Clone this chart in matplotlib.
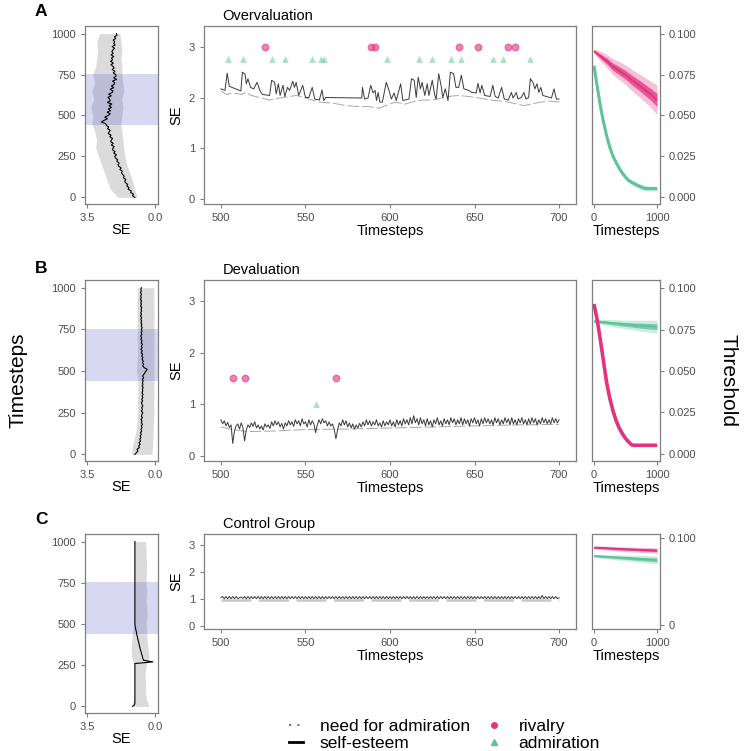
import numpy as np
import matplotlib.pyplot as plt
from matplotlib.lines import Line2D

plt.rcParams['font.family'] = ['Liberation Sans', 'DejaVu Sans']

W, H = 749, 751
PINK = '#E3337F'
GREEN = '#5DC39A'
AX_GRAY = '#7f7f7f'
TXT_GRAY = '#4d4d4d'

# ---------------- left panels: SE over all 1000 timesteps ----------------
left_t = np.arange(0, 1001, 10)
band_t = np.arange(0, 1001, 50)

left_se_a = [1.03, 1.15, 1.10, 1.25, 1.22, 1.38, 1.33, 1.45, 1.40, 1.52, 1.55,
             1.50, 1.62, 1.58, 1.66, 1.72, 1.68, 1.80, 1.74, 1.86, 1.90,
             1.84, 1.96, 1.92, 2.02, 2.07, 1.98, 2.12, 2.05, 2.18, 2.16,
             2.10, 2.24, 2.15, 2.28, 2.24, 2.18, 2.32, 2.26, 2.40, 2.36,
             2.30, 2.44, 2.38, 2.50, 2.53, 2.76, 2.62, 2.45, 2.58, 2.41,
             2.30, 2.46, 2.28, 2.40, 2.24, 2.36, 2.22, 2.45, 2.30, 2.33,
             2.42, 2.25, 2.38, 2.20, 2.16, 2.30, 2.12, 2.24, 2.10, 2.07,
             2.18, 1.98, 2.12, 2.00, 2.02, 2.14, 2.06, 2.20, 2.10, 2.16,
             2.26, 2.14, 2.28, 2.18, 2.24, 2.12, 2.26, 2.15, 2.22, 2.16,
             2.08, 2.20, 2.05, 2.12, 2.07, 2.15, 2.02, 2.08, 1.95, 1.98]
left_hi_a = [1.90, 2.30, 2.45, 2.60, 2.75, 2.90, 3.05, 3.00, 3.10, 3.25, 3.20,
             3.30, 3.15, 3.25, 3.10, 3.20, 3.05, 3.00, 2.95, 3.00, 2.85]
left_lo_a = [0.90, 1.05, 1.15, 1.30, 1.45, 1.55, 1.60, 1.65, 1.70, 1.75, 1.70,
             1.65, 1.70, 1.60, 1.65, 1.70, 1.70, 1.75, 1.70, 1.75, 1.80]

left_se_b = [1.03, 0.95, 0.88, 0.92, 0.80, 0.84, 0.76, 0.82, 0.74, 0.78, 0.72,
             0.76, 0.70, 0.74, 0.68, 0.72, 0.66, 0.70, 0.64, 0.70, 0.66,
             0.72, 0.64, 0.70, 0.66, 0.62, 0.70, 0.64, 0.68, 0.62, 0.66,
             0.70, 0.63, 0.68, 0.62, 0.66, 0.61, 0.67, 0.62, 0.65, 0.60,
             0.66, 0.61, 0.65, 0.60, 0.64, 0.58, 0.63, 0.57, 0.52, 0.45,
             0.40, 0.55, 0.62, 0.58, 0.64, 0.60, 0.66, 0.62, 0.68, 0.63,
             0.70, 0.65, 0.72, 0.66, 0.70, 0.64, 0.71, 0.66, 0.72, 0.68,
             0.73, 0.67, 0.71, 0.66, 0.70, 0.65, 0.71, 0.67, 0.72, 0.68,
             0.73, 0.68, 0.74, 0.69, 0.73, 0.68, 0.72, 0.67, 0.74, 0.69,
             0.73, 0.68, 0.75, 0.70, 0.73, 0.69, 0.74, 0.70, 0.72, 0.70]
left_hi_b = [1.20, 1.15, 1.05, 0.95, 0.92, 0.90, 0.90, 0.88, 0.88, 0.88, 0.95,
             0.92, 0.90, 0.90, 0.92, 0.90, 0.90, 0.92, 0.90, 0.90, 0.90]
left_lo_b = [0.15, 0.12, 0.10, 0.08, 0.08, 0.05, 0.06, 0.05, 0.05, 0.04, 0.05,
             0.05, 0.04, 0.05, 0.04, 0.05, 0.05, 0.04, 0.05, 0.05, 0.06]

left_se_c = [1.15, 1.05, 1.03, 1.03, 1.03, 1.03, 1.03, 1.03, 1.03, 1.03, 1.03,
             1.03, 1.03, 1.03, 1.03, 1.03, 1.03, 1.03, 1.03, 1.03, 1.03,
             1.03, 1.03, 1.03, 1.03, 1.03, 1.03, 0.10, 0.58, 0.62, 0.64,
             0.66, 0.69, 0.71, 0.74, 0.76, 0.78, 0.80, 0.82, 0.84, 0.86,
             0.88, 0.90, 0.92, 0.94, 0.95, 0.97, 0.99, 1.01, 1.02, 1.03,
             1.03, 1.03, 1.03, 1.03, 1.03, 1.03, 1.03, 1.03, 1.03, 1.03,
             1.03, 1.03, 1.03, 1.03, 1.03, 1.03, 1.03, 1.03, 1.03, 1.03,
             1.03, 1.03, 1.03, 1.03, 1.03, 1.03, 1.03, 1.03, 1.03, 1.03,
             1.03, 1.03, 1.03, 1.03, 1.03, 1.03, 1.03, 1.03, 1.03, 1.03,
             1.03, 1.03, 1.03, 1.03, 1.03, 1.03, 1.03, 1.03, 1.03, 1.03]
left_hi_c = [1.20, 1.08, 1.06, 1.06, 1.06, 1.06, 1.20, 1.22, 1.20, 1.15, 1.08,
             1.06, 1.06, 1.06, 1.06, 1.06, 1.06, 1.06, 1.06, 1.06, 1.06]
left_lo_c = [0.30, 0.45, 0.50, 0.48, 0.50, 0.45, 0.30, 0.35, 0.40, 0.42, 0.45,
             0.40, 0.42, 0.45, 0.42, 0.45, 0.45, 0.42, 0.45, 0.45, 0.48]

window = (440, 755)

# ---------------- middle panels: timesteps 500-700 ----------------
# A: vertices of the self-esteem line
se_a_t = [500, 502.4, 503.7, 505, 511.8, 512.7, 514.3, 515, 516, 517.5, 519.4, 521.4,
          523, 524.5, 528.8, 530, 531.8, 532.7, 534, 535, 536.7, 537.8, 539.4, 540.6,
          542.5, 543.5, 544.5, 546, 548.4, 550, 552, 554, 555.5, 558.2, 559.8, 560.8,
          562, 583.3, 583.7, 585, 587, 588.6, 590, 591.2, 592, 593, 594, 595.5,
          597.8, 599.4, 600.8, 602.4, 603.7, 606.3, 607.6, 611.2, 612.7, 614.3, 615.5,
          616.7, 618, 619, 620.6, 622, 623, 625, 626.5, 627.3, 628.8, 630.4, 631.2,
          632.7, 634.3, 635.7, 637.6, 639, 640.6, 642.2, 643.7, 646.5, 648.4, 651,
          652, 653.3, 654.3, 656, 659.2, 660.8, 662.2, 664, 666, 667.6, 669.9, 671.8,
          672.8, 674.7, 675.7, 677.6, 679.2, 680.4, 682, 683, 684.5, 685.7, 686.9, 688,
          689.2, 690.4, 695.5, 697, 698.4, 700]
se_a = [2.17, 2.14, 2.48, 2.22, 2.13, 2.50, 2.46, 2.27, 2.37, 2.20, 2.17, 2.30,
        2.14, 2.06, 2.04, 2.34, 2.30, 2.07, 2.27, 2.04, 2.24, 2.02, 2.20, 2.14,
        2.32, 2.20, 2.30, 2.04, 2.24, 2.00, 2.00, 2.20, 1.97, 1.95, 2.15, 1.94,
        2.00, 1.99, 2.20, 1.97, 1.99, 2.24, 2.09, 2.14, 1.94, 2.10, 1.91, 1.91,
        2.30, 2.14, 1.97, 2.09, 1.94, 2.27, 1.94, 1.97, 2.37, 2.34, 2.00,
        2.40, 2.17, 2.30, 2.04, 2.27, 2.04, 2.34, 2.04, 1.97, 2.47, 2.20, 2.00,
        2.17, 1.94, 2.50, 2.47, 2.20, 2.20, 2.44, 2.17, 2.14, 2.10, 2.09,
        2.28, 2.09, 2.24, 2.04, 2.02, 2.24, 2.02, 1.99, 2.20, 1.97, 1.95, 2.10,
        1.99, 2.10, 1.97, 2.00, 2.10, 1.97, 2.00, 2.37, 2.30, 2.17, 2.27, 2.10,
        2.20, 2.04, 1.99, 2.17, 1.97, 1.97]
nfa_a_t = [500, 503.3, 507, 512, 515, 518, 524, 528.8, 534.7, 540.6, 544.5, 550, 558,
           566, 574, 581.8, 587.6, 593.5, 597.5, 603, 609, 613, 619, 625, 630.8,
           636.7, 640.6, 646.5, 652.4, 660.2, 670, 679.4, 683.3, 689.2, 695, 700]
nfa_a = [2.13, 2.06, 2.09, 2.06, 2.10, 2.04, 1.99, 1.95, 1.99, 2.02, 2.04, 1.99, 1.91,
         1.89, 1.84, 1.82, 1.82, 1.79, 1.84, 1.91, 1.87, 1.91, 1.95, 1.95, 1.99,
         2.03, 2.04, 2.02, 1.99, 1.95, 1.91, 1.84, 1.87, 1.91, 1.93, 1.91]
rivalry_a = [526, 589, 591, 641, 652, 670, 674]
admiration_a = [504, 513, 530, 538, 554, 559, 561, 598, 617, 625, 636, 642, 661, 667, 683]

mid_t = np.arange(500, 701)
se_b = [0.70, 0.62, 0.68, 0.58, 0.65, 0.55, 0.60, 0.24, 0.48, 0.58,
        0.62, 0.52, 0.64, 0.55, 0.29, 0.50, 0.60, 0.55, 0.64, 0.57,
        0.66, 0.54, 0.60, 0.52, 0.58, 0.50, 0.62, 0.56, 0.60, 0.53,
        0.66, 0.58, 0.68, 0.60, 0.66, 0.56, 0.63, 0.52, 0.64, 0.58,
        0.68, 0.60, 0.66, 0.57, 0.70, 0.62, 0.68, 0.58, 0.72, 0.62,
        0.66, 0.56, 0.70, 0.60, 0.68, 0.62, 0.45, 0.60, 0.70, 0.62,
        0.72, 0.64, 0.68, 0.58, 0.66, 0.58, 0.62, 0.52, 0.33, 0.50,
        0.64, 0.58, 0.70, 0.60, 0.68, 0.56, 0.64, 0.54, 0.62, 0.52,
        0.60, 0.54, 0.63, 0.56, 0.66, 0.58, 0.70, 0.60, 0.68, 0.58,
        0.66, 0.60, 0.70, 0.58, 0.64, 0.56, 0.68, 0.58, 0.66, 0.60,
        0.70, 0.58, 0.66, 0.56, 0.70, 0.60, 0.68, 0.58, 0.72, 0.62,
        0.70, 0.60, 0.74, 0.62, 0.78, 0.64, 0.72, 0.60, 0.74, 0.62,
        0.70, 0.58, 0.72, 0.60, 0.68, 0.56, 0.70, 0.62, 0.74, 0.60,
        0.68, 0.58, 0.72, 0.62, 0.70, 0.60, 0.74, 0.64, 0.72, 0.60,
        0.70, 0.62, 0.74, 0.60, 0.72, 0.62, 0.70, 0.58, 0.72, 0.64,
        0.74, 0.62, 0.70, 0.58, 0.72, 0.62, 0.74, 0.64, 0.72, 0.62,
        0.70, 0.60, 0.74, 0.64, 0.72, 0.60, 0.70, 0.62, 0.74, 0.64,
        0.72, 0.60, 0.74, 0.62, 0.70, 0.60, 0.72, 0.64, 0.74, 0.62,
        0.70, 0.60, 0.72, 0.62, 0.74, 0.64, 0.72, 0.60, 0.70, 0.62,
        0.74, 0.64, 0.72, 0.62, 0.70, 0.62, 0.74, 0.64, 0.72, 0.64,
        0.70]
nfa_b_t = [500, 505, 515, 530, 550, 575, 600, 625, 650, 675, 700]
nfa_b = [0.56, 0.52, 0.47, 0.48, 0.51, 0.52, 0.54, 0.56, 0.58, 0.60, 0.61]
rivalry_b = [507, 514, 568]
admiration_b = [556]

se_c = [1.06, 1.10, 1.02, 1.10, 1.02, 1.10, 1.02, 1.10, 1.02, 1.10,
        1.02, 1.06, 1.08, 1.03, 1.10, 1.02, 1.10, 1.02, 1.10, 1.02,
        1.10, 1.02, 1.10, 1.02, 1.10, 1.02, 1.10, 1.02, 1.10, 1.02,
        1.10, 1.02, 1.10, 1.02, 1.10, 1.02, 1.10, 1.02, 1.10, 1.02,
        1.10, 1.02, 1.10, 1.02, 1.10, 1.02, 1.10, 1.02, 1.10, 1.02,
        1.10, 1.02, 1.10, 1.02, 1.10, 1.02, 1.10, 1.02, 1.10, 1.02,
        1.10, 1.02, 1.10, 1.02, 1.10, 1.02, 1.10, 1.02, 1.10, 1.02,
        1.10, 1.02, 1.10, 1.02, 1.10, 1.02, 1.10, 1.02, 1.10, 1.02,
        1.10, 1.02, 1.10, 1.02, 1.10, 1.02, 1.10, 1.02, 1.10, 1.02,
        1.10, 1.02, 1.10, 1.02, 1.10, 1.02, 1.10, 1.02, 1.10, 1.02,
        1.10, 1.02, 1.10, 1.02, 1.10, 1.02, 1.10, 1.02, 1.10, 1.02,
        1.10, 1.02, 1.10, 1.02, 1.10, 1.02, 1.10, 1.02, 1.10, 1.02,
        1.10, 1.02, 1.10, 1.02, 1.10, 1.02, 1.10, 1.02, 1.10, 1.02,
        1.10, 1.02, 1.10, 1.02, 1.10, 1.02, 1.10, 1.02, 1.10, 1.02,
        1.10, 1.02, 1.10, 1.02, 1.10, 1.02, 1.10, 1.02, 1.10, 1.02,
        1.10, 1.02, 1.10, 1.02, 1.10, 1.02, 1.10, 1.02, 1.10, 1.02,
        1.10, 1.02, 1.10, 1.02, 1.10, 1.02, 1.10, 1.02, 1.10, 1.02,
        1.10, 1.02, 1.10, 1.02, 1.10, 1.02, 1.10, 1.02, 1.10, 1.02,
        1.10, 1.02, 1.10, 1.02, 1.10, 1.02, 1.10, 1.02, 1.10, 1.02,
        1.14, 1.02, 1.10, 1.02, 1.10, 1.02, 1.10, 1.02, 1.10, 1.02,
        1.06]
nfa_c_t = [500, 700]
nfa_c = [0.97, 0.97]

# ---------------- right panels: thresholds over 1000 timesteps ----------------
thr_t100 = np.arange(0, 1001, 100)
thr_t50 = np.arange(0, 1001, 50)

riv_thr_a = [0.0895, 0.0865, 0.0835, 0.0800, 0.0775, 0.0750, 0.0718, 0.0690, 0.0660, 0.0630, 0.0595]
riv_spr_a = [0.0015, 0.0030, 0.0040, 0.0050, 0.0055, 0.0060, 0.0065, 0.0070, 0.0075, 0.0080, 0.0090]
adm_thr_a = [0.0805, 0.0680, 0.0560, 0.0460, 0.0375, 0.0305, 0.0250, 0.0210, 0.0175, 0.0145, 0.0120,
             0.0100, 0.0088, 0.0078, 0.0068, 0.0060, 0.0052, 0.0050, 0.0050, 0.0050, 0.0050]
adm_spr_a = [0.0015] * 21

riv_thr_b = [0.0905, 0.0810, 0.0690, 0.0560, 0.0430, 0.0335, 0.0260, 0.0200, 0.0155, 0.0120, 0.0092,
             0.0070, 0.0052, 0.0050, 0.0050, 0.0050, 0.0050, 0.0050, 0.0050, 0.0050, 0.0050]
riv_spr_b = [0.0008, 0.0015, 0.0020, 0.0025, 0.0025, 0.0025, 0.0022, 0.0020, 0.0018, 0.0016, 0.0014,
             0.0012, 0.0008, 0.0006, 0.0006, 0.0006, 0.0006, 0.0006, 0.0006, 0.0006, 0.0006]
adm_thr_b = [0.0800, 0.0797, 0.0793, 0.0789, 0.0785, 0.0781, 0.0778, 0.0775, 0.0772, 0.0770, 0.0767]
adm_spr_b = [0.0012, 0.0015, 0.0018, 0.0021, 0.0024, 0.0026, 0.0029, 0.0032, 0.0035, 0.0037, 0.0040]

riv_thr_c = [0.0893, 0.0890, 0.0887, 0.0882, 0.0878, 0.0875, 0.0872, 0.0869, 0.0866, 0.0863, 0.0860]
riv_spr_c = [0.0018, 0.0020, 0.0022, 0.0024, 0.0025, 0.0026, 0.0027, 0.0028, 0.0029, 0.0030, 0.0031]
adm_thr_c = [0.0797, 0.0792, 0.0787, 0.0783, 0.0778, 0.0774, 0.0769, 0.0764, 0.0760, 0.0755, 0.0751]
adm_spr_c = [0.0019, 0.0022, 0.0025, 0.0028, 0.0031, 0.0033, 0.0036, 0.0039, 0.0041, 0.0044, 0.0046]


def px_rect(l, t, r, b):
    return [l / W, 1 - b / H, (r - l) / W, (b - t) / H]


def style(ax, right=False):
    for sp in ax.spines.values():
        sp.set_color(AX_GRAY)
        sp.set_linewidth(0.9)
    ax.tick_params(colors=AX_GRAY, labelcolor=TXT_GRAY, labelsize=8, length=3, width=0.8)
    if right:
        ax.yaxis.tick_right()


def left_panel(ax, se, lo, hi):
    ax.fill_betweenx(band_t, lo, hi, color='#c4c4c4', alpha=0.6, lw=0)
    ax.plot(se, left_t, color='black', lw=0.8)
    ax.axhspan(*window, color='#6666cc', alpha=0.25, lw=0)
    ax.set_xlim(3.6, -0.16)
    ax.set_ylim(-40, 1046)
    ax.set_xticks([3.5, 0.0], ['3.5', '0.0'])
    ax.set_yticks([0, 250, 500, 750, 1000])
    ax.set_xlabel('SE', fontsize=10.5, labelpad=0)
    style(ax)


def mid_panel(ax, t, se, nt, nfa, riv, riv_y, adm, adm_y, title, nfa_lw=0.7, nfa_col='#a8a8a8'):
    ax.plot(nt, nfa, color=nfa_col, lw=nfa_lw, linestyle=(0, (12, 3)))
    ax.plot(t, se, color='#3a3a3a', lw=0.7)
    if riv:
        ax.scatter(riv, [riv_y] * len(riv), s=22, color=PINK, alpha=0.6, linewidths=1, zorder=3)
    if adm:
        ax.scatter(adm, [adm_y] * len(adm), s=24, marker='^', color=GREEN, alpha=0.5, linewidths=0, zorder=3)
    ax.set_xlim(490, 710)
    ax.set_ylim(-0.1, 3.41)
    ax.set_xticks([500, 550, 600, 650, 700])
    ax.set_yticks([0, 1, 2, 3])
    ax.set_xlabel('Timesteps', fontsize=10.5, labelpad=1)
    ax.set_ylabel('SE', fontsize=10.5, labelpad=4)
    ax.set_title(title, loc='left', fontsize=10.5, pad=4, x=0.05)
    style(ax)


def ribbon(ax, t, c, s, color, lw):
    c = np.array(c)
    s = np.array(s)
    ax.fill_between(t, c - s, c + s, color=color, alpha=0.3, lw=0)
    ax.fill_between(t, c - 0.45 * s, c + 0.45 * s, color=color, alpha=0.75, lw=0)
    ax.plot(t, c, color=color, lw=lw, solid_capstyle='butt')


def right_panel(ax, short=False):
    ax.set_xlim(-32, 1048)
    ax.set_ylim(-0.0045, 0.105)
    ax.set_xticks([0, 1000])
    if short:
        ax.set_yticks([0, 0.1], ['0', '0.100'])
    else:
        ax.set_yticks([0, 0.025, 0.05, 0.075, 0.1],
                      ['0.000', '0.025', '0.050', '0.075', '0.100'])
    ax.set_xlabel('Timesteps', fontsize=10.5, labelpad=1)
    style(ax, right=True)


fig = plt.figure(figsize=(W / 100, H / 100), dpi=100)

# row A
ax = fig.add_axes(px_rect(85, 26, 158, 204))
left_panel(ax, left_se_a, left_lo_a, left_hi_a)
ax = fig.add_axes(px_rect(204, 26, 576, 204))
mid_panel(ax, se_a_t, se_a, nfa_a_t, nfa_a, rivalry_a, 3.0, admiration_a, 2.75, 'Overvaluation')
ax = fig.add_axes(px_rect(592, 26, 660, 204))
ribbon(ax, thr_t50, adm_thr_a, adm_spr_a, GREEN, 2.2)
ribbon(ax, thr_t100, riv_thr_a, riv_spr_a, PINK, 1.4)
right_panel(ax)

# row B
ax = fig.add_axes(px_rect(85, 280, 158, 461))
left_panel(ax, left_se_b, left_lo_b, left_hi_b)
ax = fig.add_axes(px_rect(204, 280, 576, 461))
mid_panel(ax, mid_t, se_b, nfa_b_t, nfa_b, rivalry_b, 1.5, admiration_b, 1.0, 'Devaluation')
ax = fig.add_axes(px_rect(592, 280, 660, 461))
ribbon(ax, thr_t100, adm_thr_b, adm_spr_b, GREEN, 1.4)
ribbon(ax, thr_t50, riv_thr_b, riv_spr_b, PINK, 2.6)
right_panel(ax)

# row C
ax = fig.add_axes(px_rect(85, 534, 158, 713))
left_panel(ax, left_se_c, left_lo_c, left_hi_c)
ax = fig.add_axes(px_rect(204, 534, 576, 629))
mid_panel(ax, mid_t, se_c, nfa_c_t, nfa_c, [], 0, [], 0, 'Control Group',
          nfa_lw=1.8, nfa_col='#c8c8c8')
ax = fig.add_axes(px_rect(592, 534, 660, 629))
ribbon(ax, thr_t100, adm_thr_c, adm_spr_c, GREEN, 1.4)
ribbon(ax, thr_t100, riv_thr_c, riv_spr_c, PINK, 1.4)
right_panel(ax, short=True)

# panel letters and shared labels
for letter, y in [('A', 12), ('B', 268), ('C', 520)]:
    fig.text(35 / W, 1 - y / H, letter, fontsize=12.5, fontweight='bold', va='center')
fig.text(18 / W, 1 - 380 / H, 'Timesteps', fontsize=15, rotation=90, ha='center', va='center')
fig.text(728 / W, 1 - 380 / H, 'Threshold', fontsize=15, rotation=-90, ha='center', va='center')

handles = [
    Line2D([], [], color='#777777', lw=1.5, linestyle=(0, (1, 3))),
    Line2D([], [], color='black', lw=2),
    Line2D([], [], color=PINK, marker='o', linestyle='none', markersize=4),
    Line2D([], [], color=GREEN, marker='^', linestyle='none', markersize=4),
]
labels = ['need for admiration', 'self-esteem', 'rivalry', 'admiration']
fig.legend(handles, labels, ncol=2, frameon=False, fontsize=12.5,
           loc='upper left', bbox_to_anchor=(280 / W, 1 - 710 / H),
           handlelength=0.8, handletextpad=1.0, columnspacing=1.0,
           labelspacing=0.12, borderpad=0)

fig.savefig('out.png', dpi=100)
